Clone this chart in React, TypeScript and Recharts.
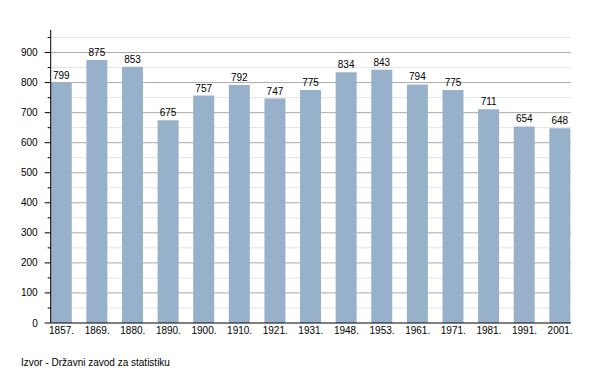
import { BarChart, Bar, XAxis, YAxis, CartesianGrid, LabelList } from 'recharts'

const years = ['1857', '1869', '1880', '1890', '1900', '1910', '1921', '1931', '1948', '1953', '1961', '1971', '1981', '1991', '2001']
const population = [799, 875, 853, 675, 757, 792, 747, 775, 834, 843, 794, 775, 711, 654, 648]
const majorTicks = [100, 200, 300, 400, 500, 600, 700, 800, 900]
const minorTicks = [50, 150, 250, 350, 450, 550, 650, 750, 850, 950]
const yTicks = [0, 50, 100, 150, 200, 250, 300, 350, 400, 450, 500, 550, 600, 650, 700, 750, 800, 850, 900, 950]
const yMax = 975

const font = '"Liberation Sans", Arial, sans-serif'

const data = population.map((v, i) => ({ i, v }))

function YTick(props: any) {
  const { x, y, payload } = props
  const major = payload.value % 100 === 0
  return (
    <g>
      <line x1={x - (major ? 6 : 3)} x2={x} y1={y} y2={y} stroke="#000" />
      {major && (
        <text x={x - 13} y={y} dy="0.35em" textAnchor="end" fontSize={10} fontFamily={font} fill="#000">
          {payload.value}
        </text>
      )}
    </g>
  )
}

const gridAt = (vals: number[]) => (p: any) => {
  const s = p?.yAxis?.scale
  if (typeof s === 'function') return vals.map((v) => s(v))
  if (s && typeof s.map === 'function') return vals.map((v) => s.map(v))
  const o = p.offset
  return vals.map((v) => o.top + o.height * (1 - v / yMax))
}

export default function App() {
  return (
    <div style={{ position: 'relative', width: 600, height: 373, background: '#fff' }}>
      <style>{'body{margin:0}'}</style>
      <BarChart
        width={600}
        height={373}
        data={data}
        margin={{ top: 30, right: 29, bottom: 20, left: 0 }}
      >
        <CartesianGrid vertical={false} stroke="#e3e3e3" horizontalCoordinatesGenerator={gridAt(minorTicks)} />
        <CartesianGrid vertical={false} stroke="#aaaaaa" horizontalCoordinatesGenerator={gridAt(majorTicks)} />
        <XAxis
          dataKey="i"
          type="number"
          height={30}
          domain={[-0.305, 14.305]}
          ticks={years.map((_, i) => i)}
          tickFormatter={(i: number) => years[i] + '.'}
          interval={0}
          tickLine={false}
          tickSize={0}
          tickMargin={4}
          axisLine={{ stroke: '#000' }}
          tick={{ fontSize: 10, fontFamily: font, fill: '#000' }}
        />
        <YAxis
          width={50.7}
          domain={[0, yMax]}
          ticks={yTicks}
          interval={0}
          tickLine={false}
          tickSize={0}
          tickMargin={0}
          axisLine={{ stroke: '#000' }}
          tick={<YTick />}
        />
        <Bar dataKey="v" fill="#98b1cb" barSize={21} isAnimationActive={false}>
          <LabelList dataKey="v" position="top" offset={4} fontSize={10} fontFamily={font} fill="#000" />
        </Bar>
      </BarChart>
      <div
        style={{
          position: 'absolute',
          left: 21,
          top: 357,
          fontSize: 10,
          lineHeight: '12px',
          fontFamily: font,
          color: '#000',
        }}
      >
        Izvor - Državni zavod za statistiku
      </div>
    </div>
  )
}
